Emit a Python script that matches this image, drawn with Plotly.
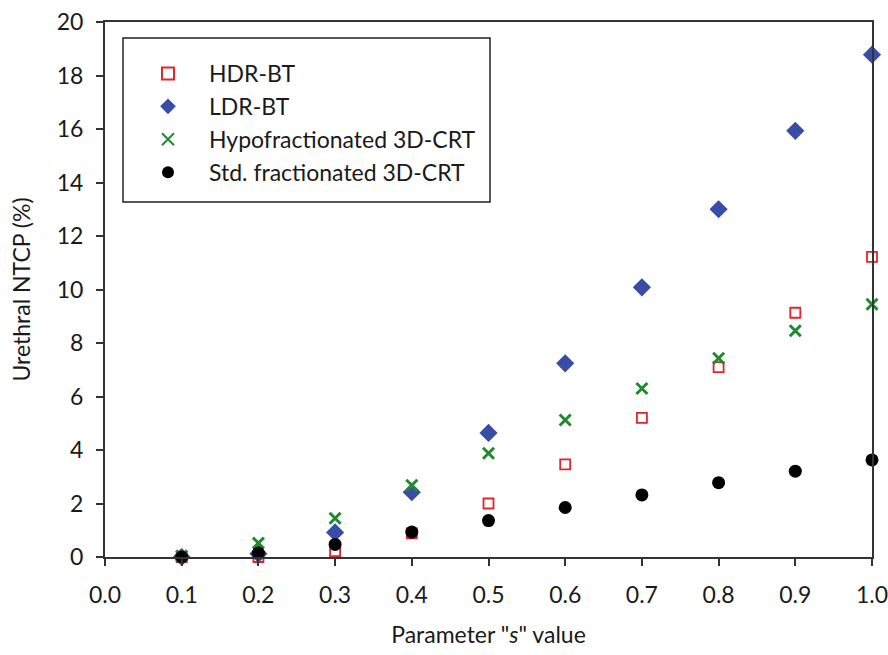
import plotly.graph_objects as go

# Parameter "s" values on the x axis
s_values = [0.1, 0.2, 0.3, 0.4, 0.5, 0.6, 0.7, 0.8, 0.9, 1.0]

# Urethral NTCP (%) for each treatment modality
hdr_bt = [0.0, 0.0, 0.22, 0.88, 2.0, 3.46, 5.2, 7.1, 9.13, 11.22]
ldr_bt = [0.0, 0.12, 0.92, 2.42, 4.64, 7.24, 10.08, 13.0, 15.93, 18.78]
hypo_3dcrt = [0.04, 0.52, 1.45, 2.68, 3.88, 5.12, 6.3, 7.43, 8.46, 9.45]
std_3dcrt = [0.0, 0.15, 0.47, 0.93, 1.36, 1.85, 2.32, 2.78, 3.21, 3.63]

series_names = ["HDR-BT", "LDR-BT", "Hypofractionated 3D-CRT", "Std. fractionated 3D-CRT"]

x_ticks = [0.0, 0.1, 0.2, 0.3, 0.4, 0.5, 0.6, 0.7, 0.8, 0.9, 1.0]
x_tick_labels = ["0.0", "0.1", "0.2", "0.3", "0.4", "0.5", "0.6", "0.7", "0.8", "0.9", "1.0"]
y_ticks = [0, 2, 4, 6, 8, 10, 12, 14, 16, 18, 20]

FONT = "Lato, 'Open Sans', sans-serif"
FS = 23
TEXT = "#1a1a1a"
AXIS = "#333333"

W, H = 888, 655
ML, MR, MT, MB = 105, 16, 22, 98
PW, PH = W - ML - MR, H - MT - MB


def px_x(px):
    return (px - ML) / PW


def px_y(py):
    return (H - MB - py) / PH


fig = go.Figure()

fig.add_trace(go.Scatter(
    x=s_values, y=hdr_bt, mode="markers", name=series_names[0],
    marker=dict(symbol="square-open", size=10, color="#e0262c", line=dict(width=1.8)),
    cliponaxis=False,
))
fig.add_trace(go.Scatter(
    x=s_values, y=ldr_bt, mode="markers", name=series_names[1],
    marker=dict(symbol="diamond", size=14, color="#3a4da6", line=dict(width=0)),
    cliponaxis=False,
))
fig.add_trace(go.Scatter(
    x=s_values, y=hypo_3dcrt, mode="markers", name=series_names[2],
    marker=dict(symbol="x-thin-open", size=11, color="#1f8a30", line=dict(width=3, color="#1f8a30")),
    cliponaxis=False,
))
fig.add_trace(go.Scatter(
    x=s_values, y=std_3dcrt, mode="markers", name=series_names[3],
    marker=dict(symbol="circle", size=13, color="#000000", line=dict(width=0)),
    cliponaxis=False,
))

# Legend frame
fig.add_shape(
    type="rect", xref="paper", yref="paper",
    x0=px_x(123), x1=px_x(490), y0=px_y(202), y1=px_y(38),
    line=dict(color="#222222", width=1.5), fillcolor="rgba(0,0,0,0)", layer="below",
)

fig.update_layout(
    width=W, height=H,
    margin=dict(l=ML, r=MR, t=MT, b=MB, autoexpand=False),
    paper_bgcolor="white", plot_bgcolor="white",
    font=dict(family=FONT, size=FS, color=TEXT),
    showlegend=True,
    legend=dict(
        x=px_x(127), y=px_y(52), xanchor="left", yanchor="top",
        borderwidth=0, bgcolor="rgba(0,0,0,0)",
        font=dict(family=FONT, size=FS, color=TEXT),
        itemsizing="constant", itemwidth=72,
    ),
    xaxis=dict(
        range=[0.0, 1.0], tickmode="array", tickvals=x_ticks, ticktext=x_tick_labels,
        showgrid=False, zeroline=False, showline=True, linecolor=AXIS, linewidth=2,
        mirror=True, ticks="outside", ticklen=7, tickwidth=1.5, tickcolor=AXIS,
        ticklabelstandoff=9, automargin=False, ticklabeloverflow="allow",
        tickfont=dict(family=FONT, size=FS, color=TEXT),
        title=dict(text='Parameter "<i>s</i>" value', font=dict(family=FONT, size=FS, color=TEXT), standoff=20),
    ),
    yaxis=dict(
        range=[0, 20], tickmode="array", tickvals=y_ticks,
        showgrid=False, zeroline=False, showline=True, linecolor=AXIS, linewidth=2,
        mirror=True, ticks="outside", ticklen=7, tickwidth=1.5, tickcolor=AXIS,
        ticklabelstandoff=8, automargin=False, ticklabeloverflow="allow",
        tickfont=dict(family=FONT, size=FS, color=TEXT),
        title=dict(text="Urethral NTCP (%)", font=dict(family=FONT, size=FS, color=TEXT), standoff=20),
    ),
)

fig.write_html("out.html")
